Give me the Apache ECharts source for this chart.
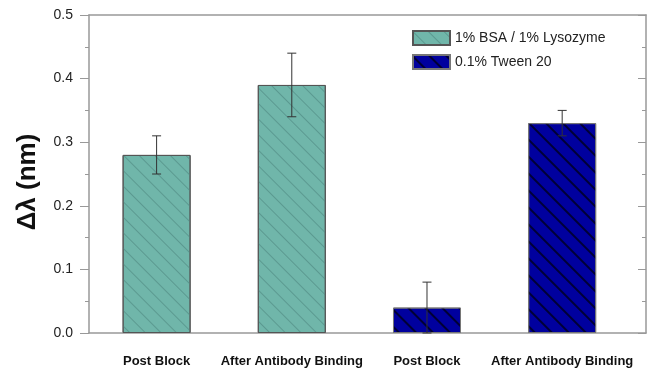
<!DOCTYPE html>
<html>
<head>
<meta charset="utf-8">
<script src="https://cdn.jsdelivr.net/npm/echarts@6/dist/echarts.min.js"></script>
<style>html,body{margin:0;padding:0;background:#fff;}#chart{width:652px;height:375px;}</style>
</head>
<body>
<div id="chart"></div>
<script>
// ---- data ----
var categories = ['Post Block', 'After Antibody Binding', 'Post Block', 'After Antibody Binding'];
var seriesNames = ['1% BSA / 1% Lysozyme', '0.1% Tween 20'];
var bsaPos = [1, 2];
var bsaValues = [0.28, 0.39];
var bsaErrors = [0.03, 0.05];
var tweenPos = [3, 4];
var tweenValues = [0.04, 0.33];
var tweenErrors = [0.04, 0.02];
var yTicks = [0, 0.1, 0.2, 0.3, 0.4, 0.5];

function pairs(pos, vals) { return pos.map(function (p, i) { return [p, vals[i]]; }); }
function errData(pos, vals, errs) {
  return pos.map(function (p, i) { return [p, Math.max(0, vals[i] - errs[i]), vals[i] + errs[i]]; });
}

var chart = echarts.init(document.getElementById('chart'), null, { renderer: 'canvas' });
var axisColor = '#999';
var font = '"Liberation Sans", Arial, sans-serif';

function errRender(params, api) {
  var x = api.value(0);
  var lo = api.coord([x, api.value(1)]);
  var hi = api.coord([x, api.value(2)]);
  var w = 4.5;
  var st = { stroke: '#333', lineWidth: 1 };
  return {
    type: 'group',
    children: [
      { type: 'line', shape: { x1: hi[0], y1: hi[1], x2: lo[0], y2: lo[1] }, style: st },
      { type: 'line', shape: { x1: hi[0] - w, y1: hi[1], x2: hi[0] + w, y2: hi[1] }, style: st },
      { type: 'line', shape: { x1: lo[0] - w, y1: lo[1], x2: lo[0] + w, y2: lo[1] }, style: st }
    ]
  };
}

var option = {
  animation: false,
  textStyle: { fontFamily: font },
  grid: { left: 89, right: 6, top: 15, bottom: 42 },
  legend: {
    data: seriesNames,
    orient: 'vertical',
    left: 412, top: 30, padding: 0,
    itemWidth: 37, itemHeight: 14, itemGap: 8,
    icon: 'rect',
    textStyle: { fontSize: 14, color: '#222', fontFamily: font }
  },
  xAxis: [{
    type: 'value', min: 0.5, max: 4.62,
    axisLine: { show: true, lineStyle: { color: axisColor, width: 1.5 } },
    axisTick: { show: false },
    splitLine: { show: false },
    axisLabel: {
      customValues: [1, 2, 3, 4],
      formatter: function (v) { return categories[Math.round(v) - 1] || ''; },
      fontSize: 13, fontWeight: 'bold', color: '#111', margin: 22, fontFamily: font
    }
  }, {
    type: 'value', min: 0.5, max: 4.62, position: 'top',
    axisLine: { show: true, onZero: false, lineStyle: { color: axisColor, width: 1.5 } },
    axisTick: { show: false }, axisLabel: { show: false }, splitLine: { show: false }
  }],
  yAxis: [{
    type: 'value', min: 0, max: 0.5, interval: 0.1,
    name: 'Δλ (nm)', nameLocation: 'middle', nameGap: 48,
    nameTextStyle: { fontSize: 26, fontWeight: 'bold', color: '#111', fontFamily: font, padding: [0, 16, 0, 0] },
    axisLine: { show: true, lineStyle: { color: axisColor, width: 1.5 } },
    axisTick: { show: true, length: 9, lineStyle: { color: axisColor } },
    minorTick: { show: true, splitNumber: 2, length: 4, lineStyle: { color: axisColor } },
    splitLine: { show: false },
    axisLabel: {
      fontSize: 14, color: '#222', margin: 16, fontFamily: font,
      formatter: function (v) { return v.toFixed(1); }
    }
  }, {
    type: 'value', min: 0, max: 0.5, interval: 0.1, position: 'right',
    axisLine: { show: true, lineStyle: { color: axisColor, width: 1.5 } },
    axisTick: { show: true, inside: true, length: 8, lineStyle: { color: axisColor } },
    minorTick: { show: true, splitNumber: 2, length: 4, lineStyle: { color: axisColor } },
    splitLine: { show: false },
    axisLabel: { show: false }
  }],
  series: [{
    name: seriesNames[0], type: 'bar', barWidth: 68, barGap: '-100%',
    data: pairs(bsaPos, bsaValues),
    itemStyle: {
      color: '#70b6aa', borderColor: '#555', borderWidth: 1,
      decal: { symbol: 'rect', symbolSize: 1, dashArrayX: [1, 0], dashArrayY: [1, 9.6], rotation: Math.PI / 4, color: '#5b9990' }
    }
  }, {
    name: seriesNames[1], type: 'bar', barWidth: 68, barGap: '-100%',
    data: pairs(tweenPos, tweenValues),
    itemStyle: {
      color: '#00009e', borderColor: '#777', borderWidth: 1,
      decal: { symbol: 'rect', symbolSize: 1, dashArrayX: [1, 0], dashArrayY: [1.5, 9.1], rotation: Math.PI / 4, color: '#000035' }
    }
  }, {
    type: 'custom', renderItem: errRender, z: 10,
    data: errData(bsaPos, bsaValues, bsaErrors)
  }, {
    type: 'custom', renderItem: errRender, z: 10,
    data: errData(tweenPos, tweenValues, tweenErrors)
  }]
};
chart.setOption(option);
</script>
</body>
</html>
